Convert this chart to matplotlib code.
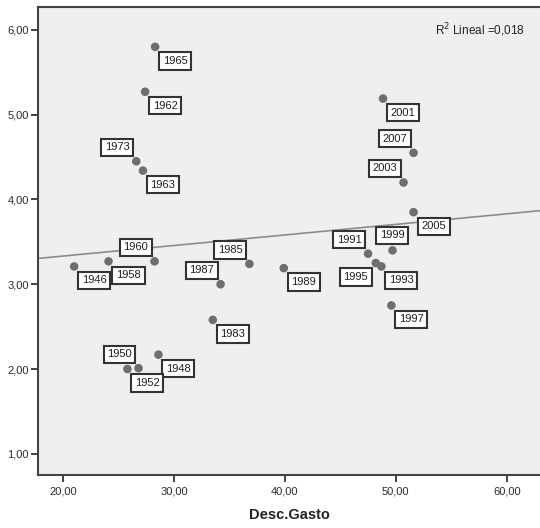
import numpy as np
import matplotlib
matplotlib.use("Agg")
import matplotlib.pyplot as plt
from matplotlib.ticker import FuncFormatter

plt.rcParams["font.family"] = ["Liberation Sans", "DejaVu Sans"]

years = [1946, 1948, 1950, 1952, 1958, 1960, 1962, 1963, 1965, 1973,
         1983, 1985, 1987, 1989, 1991, 1993, 1995, 1997, 1999, 2001,
         2003, 2005, 2007]
gasto = [21.0, 28.6, 26.8, 25.8, 24.1, 28.25, 27.4, 27.2, 28.3, 26.6,
         33.5, 36.8, 34.2, 39.9, 47.5, 48.7, 48.2, 49.6, 49.7, 48.85,
         50.7, 51.6, 51.6]
valor = [3.21, 2.17, 2.01, 2.00, 3.27, 3.27, 5.27, 4.34, 5.80, 4.45,
         2.58, 3.24, 3.00, 3.19, 3.36, 3.21, 3.25, 2.75, 3.40, 5.19,
         4.20, 3.85, 4.55]
x_ticks = [20, 30, 40, 50, 60]
y_ticks = [1, 2, 3, 4, 5, 6]
r2_text = "R$^2$ Lineal =0,018"
x_label = "Desc.Gasto"

# label placement (pixels, image coordinates: +y is down)
label_dir = {"dr": (20, 14), "ul": (-19, -14), "dl": (-20, 14), "u": (0, -15)}
label_pos = ["dr", "dr", "ul", "dr", "dr", "ul", "dr", "dr", "dr", "ul",
             "dr", "ul", "ul", "dr", "ul", "dr", "dl", "dr", "u", "dr",
             "ul", "dr", "ul"]

fig = plt.figure(figsize=(5.4, 5.28), dpi=100)
ax = fig.add_axes([38 / 540, 53 / 528, 1 - 38 / 540 + 0.002, (475 - 7) / 528])
ax.set_facecolor("#efefef")
fig.patch.set_facecolor("white")

xlim = (17.74, 63.1)
ax.set_xlim(*xlim)
ax.set_ylim(0.75, 6.27)

ax.scatter(gasto, valor, s=38, color="#6e6e6e", edgecolors="none", zorder=3)

coef = np.polyfit(gasto, valor, 1)
xl = np.array(xlim)
ax.plot(xl, np.polyval(coef, xl), color="#8c8c8c", lw=1.2, zorder=2)

for yr, xv, yv, pos in zip(years, gasto, valor, label_pos):
    dx, dy = label_dir[pos]
    ax.annotate(str(yr), (xv, yv), xytext=(dx, -dy), textcoords="offset pixels",
                ha="center", va="center", fontsize=8, color="#1e1e1e",
                bbox=dict(boxstyle="square,pad=0.33", fc="white", ec="#333333", lw=1.5),
                zorder=4)

ax.text(0.968, 0.951, r2_text, transform=ax.transAxes, ha="right", va="center",
        fontsize=8.5, color="#222222")

fmt = FuncFormatter(lambda v, p: f"{v:.2f}".replace(".", ","))
ax.xaxis.set_major_formatter(fmt)
ax.yaxis.set_major_formatter(fmt)
ax.set_xticks(x_ticks)
ax.set_yticks(y_ticks)
ax.tick_params(axis="both", direction="out", length=5, width=1.3, color="#333333",
               labelsize=8, labelcolor="#2a2a2a")
ax.tick_params(axis="y", pad=1.5)
for s in ["left", "bottom", "top"]:
    ax.spines[s].set_color("#444444")
    ax.spines[s].set_linewidth(1.5)
ax.spines["right"].set_visible(False)
ax.set_xlabel(x_label, fontsize=10.5, fontweight="bold", color="#222222", labelpad=8)

fig.savefig("out.png", dpi=100)
